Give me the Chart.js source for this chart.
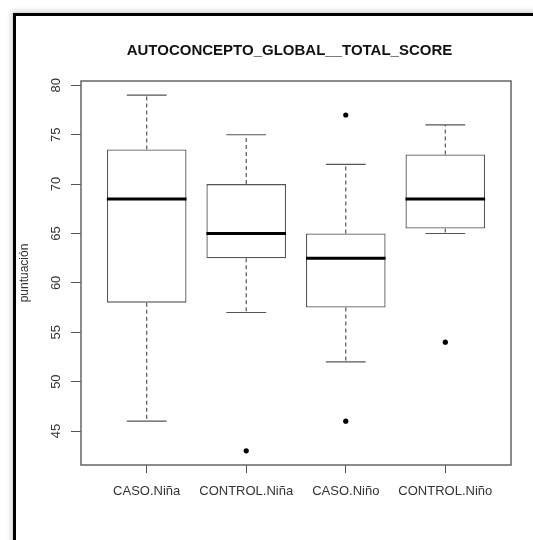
<!DOCTYPE html>
<html>
<head>
<meta charset="utf-8">
<script src="https://cdn.jsdelivr.net/npm/chart.js@4/dist/chart.umd.min.js"></script>
<style>
  html, body { margin: 0; padding: 0; background: #fff; overflow: hidden; width: 533px; height: 540px; }
  #frame {
    position: absolute; left: 13px; top: 13px; width: 580px; height: 580px;
    border-left: 3px solid #000; border-top: 3px solid #000;
    box-shadow: -2px -2px 5px rgba(0,0,0,0.18);
  }
  #c { position: absolute; left: 0; top: 0; }
</style>
</head>
<body>
<div id="frame"></div>
<canvas id="c" width="533" height="540"></canvas>
<script>
// Summary statistics of the global self-concept score per group
const chartTitle = 'AUTOCONCEPTO_GLOBAL__TOTAL_SCORE';
const yAxisLabel = 'puntuación';
const groups = ['CASO.Niña', 'CONTROL.Niña', 'CASO.Niño', 'CONTROL.Niño'];
const whiskerLow  = [46, 57, 52, 65];
const q1          = [58, 62.5, 57.5, 65.5];
const medians     = [68.5, 65, 62.5, 68.5];
const q3          = [73.5, 70, 65, 73];
const whiskerHigh = [79, 75, 72, 76];
// outliers: group position (1-based) and value
const outlierGroup = [2, 3, 3, 4];
const outlierValue = [43, 77, 46, 54];
const yTicks = [45, 50, 55, 60, 65, 70, 75, 80];
const yRange = [41.56, 80.44];
const xRange = [0.34, 4.66];

const FONT = "'Liberation Sans', Arial, Helvetica, sans-serif";
const BOX_FRACTION = 0.8;   // box width in group units
const CAP_FRACTION = 0.4;   // whisker cap width in group units
const LINE_GREY = '#555';

Chart.defaults.font.family = FONT;

// whiskers, caps, medians and the surrounding plot frame
const boxPartsPlugin = {
  id: 'boxParts',
  afterDatasetsDraw(chart) {
    const { ctx, scales: { x, y } } = chart;
    ctx.save();
    groups.forEach((g, i) => {
      const pos = i + 1;
      const cx = x.getPixelForValue(pos);
      const capL = x.getPixelForValue(pos - CAP_FRACTION / 2);
      const capR = x.getPixelForValue(pos + CAP_FRACTION / 2);
      const boxL = x.getPixelForValue(pos - BOX_FRACTION / 2);
      const boxR = x.getPixelForValue(pos + BOX_FRACTION / 2);

      // dashed whiskers
      ctx.strokeStyle = LINE_GREY;
      ctx.lineWidth = 1.2;
      ctx.setLineDash([4, 3]);
      ctx.beginPath();
      ctx.moveTo(cx, y.getPixelForValue(q3[i]));
      ctx.lineTo(cx, y.getPixelForValue(whiskerHigh[i]));
      ctx.moveTo(cx, y.getPixelForValue(q1[i]));
      ctx.lineTo(cx, y.getPixelForValue(whiskerLow[i]));
      ctx.stroke();

      // caps
      ctx.setLineDash([]);
      ctx.beginPath();
      const yh = y.getPixelForValue(whiskerHigh[i]);
      const yl = y.getPixelForValue(whiskerLow[i]);
      ctx.moveTo(capL, yh); ctx.lineTo(capR, yh);
      ctx.moveTo(capL, yl); ctx.lineTo(capR, yl);
      ctx.stroke();

      // median
      ctx.strokeStyle = '#000';
      ctx.lineWidth = 3;
      ctx.beginPath();
      const ym = y.getPixelForValue(medians[i]);
      ctx.moveTo(boxL, ym); ctx.lineTo(boxR, ym);
      ctx.stroke();
    });
    ctx.restore();
  },
  afterDraw(chart) {
    const { ctx, chartArea: a } = chart;
    ctx.save();
    ctx.strokeStyle = '#666';
    ctx.lineWidth = 1.5;
    ctx.strokeRect(a.left, a.top, a.right - a.left, a.bottom - a.top);
    ctx.restore();
  }
};

new Chart(document.getElementById('c'), {
  type: 'bar',
  data: {
    datasets: [
      {
        type: 'bar',
        data: groups.map((g, i) => ({ x: i + 1, y: [q1[i], q3[i]] })),
        backgroundColor: '#ffffff',
        borderColor: LINE_GREY,
        borderWidth: 1.3,
        borderSkipped: false,
        barPercentage: 1,
        categoryPercentage: BOX_FRACTION
      },
      {
        type: 'scatter',
        data: outlierValue.map((v, i) => ({ x: outlierGroup[i], y: v })),
        pointStyle: 'circle',
        pointRadius: 2.6,
        backgroundColor: '#000',
        borderWidth: 0,
        showLine: false
      }
    ]
  },
  options: {
    responsive: false,
    devicePixelRatio: 1,
    animation: false,
    layout: { padding: { left: 46, right: 0, top: 0, bottom: 0 } },
    plugins: {
      legend: { display: false },
      tooltip: { enabled: false },
      title: {
        display: true,
        text: chartTitle,
        color: '#111',
        font: { family: FONT, size: 15, weight: 'bold' },
        padding: { top: 42, bottom: 21 }
      }
    },
    scales: {
      x: {
        type: 'linear',
        position: 'bottom',
        min: xRange[0],
        max: xRange[1],
        offset: false,
        border: { display: false },
        grid: { offset: false, drawOnChartArea: false, drawTicks: true, tickLength: 8, color: LINE_GREY, tickColor: LINE_GREY },
        afterBuildTicks: s => { s.ticks = groups.map((g, i) => ({ value: i + 1 })); },
        afterFit: s => { s.height = 75; },
        ticks: {
          autoSkip: false,
          maxRotation: 0,
          padding: 11,
          color: '#333',
          font: { family: FONT, size: 13 },
          callback: v => groups[v - 1]
        }
      },
      y: {
        type: 'linear',
        position: 'left',
        min: yRange[0],
        max: yRange[1],
        beginAtZero: false,
        border: { display: false },
        grid: { drawOnChartArea: false, drawTicks: true, tickLength: 10, color: LINE_GREY, tickColor: LINE_GREY },
        afterBuildTicks: s => { s.ticks = yTicks.map(v => ({ value: v })); },
        afterFit: s => { s.width = 35; },
        ticks: {
          autoSkip: false,
          minRotation: 90,
          maxRotation: 90,
          crossAlign: 'center',
          padding: 7,
          color: '#333',
          font: { family: FONT, size: 13 }
        },
        title: {
          display: true,
          text: yAxisLabel,
          color: '#333',
          font: { family: FONT, size: 12 },
          padding: { top: -28.2, bottom: 0 }
        }
      },
      // empty right-hand margin axis
      yMargin: {
        type: 'linear',
        position: 'right',
        display: true,
        border: { display: false },
        grid: { display: false },
        ticks: { display: false },
        afterFit: s => { s.width = 22; }
      }
    }
  },
  plugins: [boxPartsPlugin]
});
</script>
</body>
</html>
